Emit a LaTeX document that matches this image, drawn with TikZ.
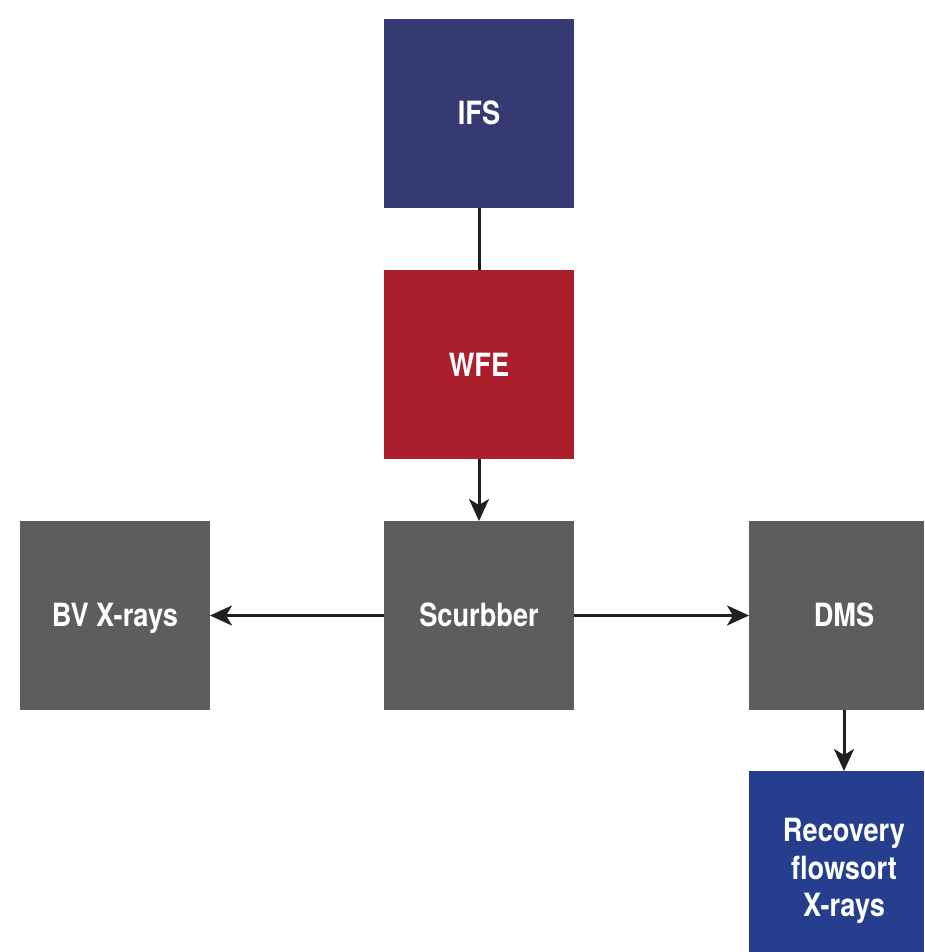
\documentclass[tikz,border=0pt]{standalone}
\usepackage{fontspec}
\setmainfont{TeX Gyre Heros}[FakeStretch=0.85]
\usetikzlibrary{arrows.meta}
\definecolor{ifsc}{HTML}{353A73}
\definecolor{wfec}{HTML}{AB1F2D}
\definecolor{grayc}{HTML}{5D5D5F}
\definecolor{recc}{HTML}{253E8E}
\definecolor{linec}{HTML}{231F20}
\begin{document}
\begin{tikzpicture}[x=1pt,y=-1pt,
  blk/.style={inner sep=0pt, outer sep=0pt, text=white, font=\fontsize{32}{37.5}\selectfont\bfseries, align=center},
  conn/.style={line width=3pt, draw=linec},
  arr/.style={conn, -{Stealth[length=22pt,width=20pt,inset=6pt]}}]
\useasboundingbox (0,0) rectangle (924,952);
\fill[ifsc] (384,19) rectangle (574,208);
\fill[wfec] (384,270) rectangle (574,459);
\fill[grayc] (384,521) rectangle (574,710);
\fill[grayc] (20,521) rectangle (210,710);
\fill[grayc] (749,521) rectangle (924,710);
\fill[recc] (749,771) rectangle (924,952);
\coordinate (ifsB) at (479,208);
\coordinate (wfeT) at (479,270);
\coordinate (wfeB) at (479,459);
\coordinate (scT) at (479,521);
\coordinate (scL) at (384,615.5);
\coordinate (scR) at (574,615.5);
\coordinate (bvR) at (210,615.5);
\coordinate (dmsL) at (749,615.5);
\coordinate (dmsB) at (844,710);
\coordinate (recT) at (844,771);
\node[blk, anchor=base] (ifs) at (479,125) {IFS};
\node[blk, anchor=base] (wfe) at (479,376) {WFE};
\node[blk, anchor=base] (sc) at (479,626) {Scurbber};
\node[blk, anchor=base] (bv) at (115,626) {BV X-rays};
\node[blk, anchor=base] (dms) at (844,626) {DMS};
\node[blk] (rec) at (844,871) {Recovery\\flowsort\\X-rays};
\draw[conn] (ifsB) -- (wfeT);
\draw[arr] (wfeB) -- (scT);
\draw[arr] (scL) -- (bvR);
\draw[arr] (scR) -- (dmsL);
\draw[arr] (dmsB) -- (recT);
\end{tikzpicture}
\end{document}
